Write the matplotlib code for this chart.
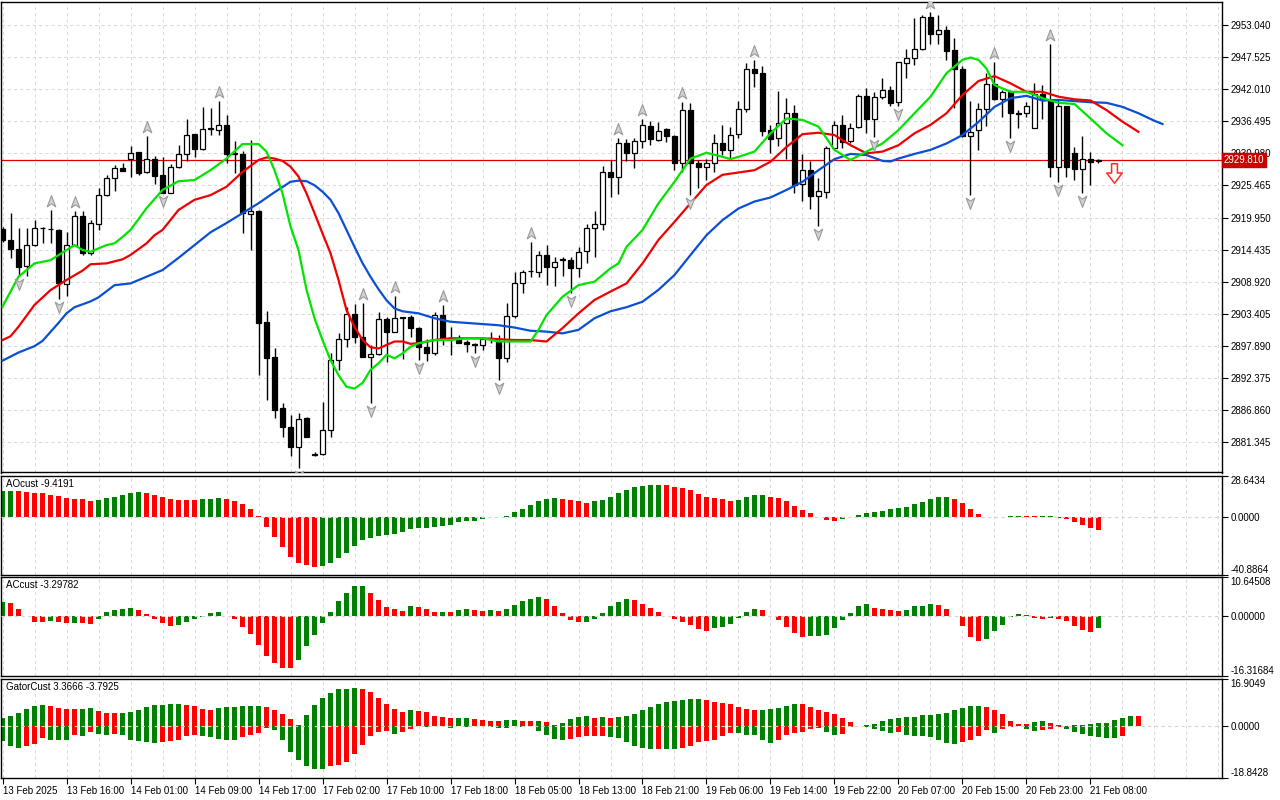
import numpy as np
import matplotlib
matplotlib.use("Agg")
import matplotlib.pyplot as plt
from matplotlib.path import Path
from matplotlib.transforms import offset_copy, blended_transform_factory

plt.rcParams['font.family'] = ['Liberation Sans', 'DejaVu Sans']

# ---- price bars (H1) ----
opn = [2918.0, 2916.1, 2914.5, 2911.6, 2915.2, 2918.1, 2917.9, 2917.8, 2908.5, 2915.2,
       2920.2, 2913.8, 2918.9, 2923.9, 2926.7, 2928.4, 2930.1, 2931.2, 2927.7, 2930.0,
       2927.3, 2924.2, 2928.6, 2930.9, 2934.3, 2931.7, 2935.2, 2935.1, 2935.8, 2931.0,
       2930.9, 2920.5, 2921.1, 2902.0, 2896.0, 2887.1, 2883.9, 2880.5, 2885.5, 2879.1,
       2879.2, 2883.4, 2895.4, 2899.1, 2903.3, 2899.3, 2896.0, 2896.4, 2902.4, 2900.3,
       2902.8, 2902.8, 2901.0, 2897.7, 2896.7, 2903.2, 2899.2, 2899.1, 2898.5, 2898.1,
       2898.0, 2899.0, 2898.5, 2895.7, 2903.0, 2908.7, 2910.7, 2910.6, 2913.5, 2911.5,
       2912.6, 2912.6, 2911.2, 2914.2, 2918.1, 2918.8, 2927.8, 2927.0, 2932.7, 2931.0,
       2933.2, 2935.7, 2933.3, 2935.2, 2934.0, 2929.3, 2938.5, 2929.3, 2928.7, 2929.4,
       2932.8, 2931.6, 2934.3, 2938.6, 2945.5, 2944.8, 2935.1, 2933.6, 2936.3, 2938.0,
       2925.7, 2928.1, 2923.7, 2924.4, 2931.9, 2935.9, 2933.1, 2935.5, 2940.9, 2936.9,
       2940.75, 2941.9, 2939.9, 2946.5, 2947.5, 2948.9, 2954.4, 2951.5, 2952.2, 2948.8,
       2945.5, 2933.9, 2935.0, 2938.6, 2942.9, 2940.35, 2941.6, 2937.9, 2937.9, 2935.4,
       2941.3, 2940.2, 2928.7, 2939.15, 2931.0, 2928.3, 2930.1, 2929.6]
high = [2918.3, 2920.7, 2918.1, 2918.1, 2919.5, 2918.4, 2921.2, 2918.0, 2917.5, 2921.1,
        2921.1, 2919.5, 2925.1, 2927.3, 2929.0, 2929.4, 2932.3, 2931.3, 2933.9, 2930.5,
        2930.4, 2929.2, 2932.4, 2936.9, 2934.4, 2938.9, 2938.8, 2940.0, 2937.6, 2933.2,
        2931.4, 2933.3, 2921.2, 2903.8, 2897.4, 2888.0, 2885.9, 2886.3, 2885.6, 2879.5,
        2888.2, 2896.6, 2900.0, 2904.5, 2905.05, 2905.2, 2898.0, 2903.7, 2902.8, 2906.4,
        2902.9, 2903.2, 2901.1, 2899.1, 2903.7, 2904.9, 2901.1, 2899.7, 2898.85, 2898.3,
        2899.4, 2900.3, 2899.7, 2905.2, 2910.6, 2910.9, 2915.7, 2914.2, 2915.2, 2913.2,
        2913.2, 2913.2, 2914.9, 2918.8, 2921.1, 2928.8, 2929.85, 2933.6, 2933.4, 2933.7,
        2936.9, 2936.6, 2936.4, 2935.4, 2934.2, 2939.9, 2939.6, 2929.85, 2930.0, 2934.4,
        2935.9, 2935.6, 2940.05, 2946.6, 2947.1, 2946.0, 2935.9, 2941.8, 2940.5, 2939.3,
        2930.9, 2929.7, 2926.7, 2932.3, 2936.6, 2937.6, 2936.2, 2941.2, 2942.2, 2941.6,
        2943.9, 2942.6, 2946.8, 2948.9, 2954.25, 2954.8, 2955.3, 2954.8, 2952.9, 2950.8,
        2946.0, 2940.0, 2939.6, 2944.8, 2946.8, 2941.9, 2941.9, 2938.5, 2939.9, 2943.05,
        2942.8, 2949.8, 2940.2, 2939.2, 2932.1, 2933.95, 2931.3, 2930.1]
low = [2915.7, 2913.0, 2909.8, 2909.8, 2915.0, 2915.5, 2915.6, 2906.0, 2906.5, 2915.0,
       2913.5, 2913.5, 2917.8, 2923.7, 2924.6, 2927.9, 2927.0, 2927.3, 2927.6, 2925.8,
       2924.1, 2924.1, 2928.4, 2929.7, 2930.4, 2931.6, 2934.2, 2934.2, 2929.3, 2927.6,
       2917.2, 2914.35, 2892.8, 2888.5, 2885.4, 2882.2, 2878.8, 2876.9, 2882.1, 2878.8,
       2879.05, 2882.2, 2893.7, 2897.7, 2898.3, 2895.9, 2887.95, 2896.3, 2895.1, 2900.2,
       2895.6, 2899.4, 2895.4, 2895.3, 2896.3, 2898.0, 2896.3, 2898.3, 2896.8, 2896.7,
       2897.1, 2898.3, 2892.0, 2895.1, 2902.6, 2907.0, 2909.75, 2909.75, 2908.3, 2908.15,
       2909.9, 2906.9, 2909.75, 2912.1, 2913.2, 2917.8, 2923.5, 2924.0, 2929.6, 2928.4,
       2931.9, 2932.4, 2933.2, 2933.0, 2928.1, 2927.8, 2923.8, 2925.0, 2926.4, 2927.8,
       2930.7, 2930.1, 2933.6, 2938.2, 2942.5, 2933.9, 2931.1, 2932.3, 2930.1, 2924.1,
       2922.8, 2921.5, 2918.5, 2923.25, 2931.7, 2931.9, 2932.7, 2935.3, 2934.55, 2933.75,
       2940.3, 2939.15, 2939.15, 2943.9, 2946.2, 2948.8, 2949.9, 2949.9, 2947.1, 2938.75,
       2933.75, 2923.8, 2931.6, 2935.7, 2940.2, 2937.3, 2933.6, 2935.4, 2937.3, 2935.4,
       2936.85, 2926.9, 2926.1, 2927.0, 2926.4, 2924.1, 2925.55, 2929.3]
close = [2916.1, 2914.5, 2911.5, 2915.2, 2918.1, 2918.2, 2917.95, 2908.6, 2915.2, 2920.2,
         2913.8, 2919.0, 2923.9, 2926.7, 2928.4, 2928.0, 2931.0, 2927.6, 2930.0, 2927.1,
         2924.2, 2928.6, 2930.8, 2934.2, 2931.7, 2935.2, 2935.25, 2935.8, 2930.9, 2930.95,
         2920.7, 2921.1, 2901.8, 2895.8, 2886.8, 2883.8, 2880.5, 2885.2, 2882.2, 2879.15,
         2883.4, 2895.4, 2899.0, 2903.3, 2899.3, 2896.0, 2896.4, 2902.4, 2900.2, 2902.6,
         2902.6, 2900.9, 2897.7, 2896.7, 2903.2, 2899.1, 2899.0, 2898.4, 2898.2, 2898.05,
         2899.0, 2899.05, 2895.7, 2903.0, 2908.7, 2910.6, 2910.8, 2913.5, 2911.5, 2912.3,
         2912.65, 2911.2, 2914.05, 2918.1, 2918.8, 2927.8, 2927.0, 2932.7, 2931.1, 2933.2,
         2935.8, 2933.4, 2934.8, 2933.9, 2929.3, 2938.5, 2929.3, 2928.7, 2929.3, 2932.8,
         2931.6, 2934.2, 2938.6, 2945.5, 2944.8, 2934.9, 2933.4, 2936.2, 2938.0, 2925.5,
         2928.1, 2923.7, 2924.5, 2931.9, 2935.9, 2933.0, 2935.3, 2940.9, 2936.9, 2940.75,
         2941.9, 2939.7, 2946.7, 2947.5, 2948.9, 2954.4, 2951.5, 2952.2, 2948.7, 2945.5,
         2933.9, 2934.7, 2938.6, 2942.9, 2940.35, 2941.6, 2937.9, 2937.85, 2939.15, 2941.3,
         2940.2, 2928.7, 2939.15, 2928.7, 2928.3, 2930.1, 2929.55, 2929.81]

# fractal bars
fractal_up = [6, 9, 18, 27, 45, 49, 55, 66, 77, 80, 85, 94, 116, 124, 131]
fractal_dn = [2, 7, 20, 37, 46, 52, 59, 62, 71, 86, 102, 109, 112, 121, 126, 132, 135]

# signal arrow
signal_bar = 139
signal_price = 2927.6

# ---- alligator lines (bar index, value) ----
jaw_x = [0, 2, 4, 5, 7, 8, 9, 11, 12, 14, 16, 18, 20, 22, 24, 26, 28, 30, 32, 34,
         36, 37, 38, 39, 40, 41, 42, 43, 44, 45, 46, 47, 48, 49, 50, 52, 54, 56, 58, 60,
         62, 64, 66, 68, 70, 72, 74, 76, 78, 80, 82, 84, 86, 88, 90, 92, 94, 96, 98, 100,
         102, 104, 106, 108, 110, 111, 112, 114, 116, 118, 120, 122, 124, 126, 128, 130, 132, 134, 136, 138,
         140, 142, 144, 145]
jaw_y = [2895.3, 2896.7, 2897.8, 2898.7, 2901.8, 2903.45, 2904.5, 2905.5, 2906.2, 2908.3,
         2908.6, 2909.75, 2910.9, 2913.0, 2915.2, 2917.4, 2919.0, 2920.7, 2922.4, 2924.3,
         2926.1, 2926.3, 2926.2, 2925.5, 2924.4, 2923.0, 2920.7, 2917.8, 2914.9, 2912.1,
         2909.75, 2907.6, 2905.7, 2904.3, 2903.8, 2903.45, 2902.6, 2902.0, 2901.8, 2901.6,
         2901.4, 2901.0, 2900.45, 2900.3, 2900.0, 2900.6, 2902.6, 2903.8, 2904.5, 2905.45,
         2907.5, 2910.05, 2913.5, 2916.9, 2919.5, 2921.5, 2922.7, 2923.4, 2924.7, 2926.1,
         2928.1, 2930.0, 2930.9, 2930.7, 2929.7, 2929.6, 2930.1, 2930.9, 2931.6, 2932.7,
         2934.15, 2936.4, 2939.0, 2940.5, 2940.9, 2940.1, 2940.2, 2940.0, 2939.8, 2939.7,
         2939.0, 2937.9, 2936.6, 2936.05]
teeth_x = [0, 1, 2, 4, 6, 8, 10, 11, 13, 15, 16, 18, 19, 20, 22, 24, 26, 28, 30, 32,
           33, 34, 35, 36, 37, 38, 39, 40, 41, 42, 43, 44, 45, 46, 47, 48, 49, 50, 51, 52,
           54, 56, 60, 62, 64, 66, 68, 70, 72, 74, 76, 78, 80, 82, 84, 86, 88, 90, 92, 94,
           96, 98, 100, 102, 104, 106, 108, 110, 112, 114, 116, 118, 120, 122, 124, 126, 128, 130, 132, 134,
           136, 138, 140, 142]
teeth_y = [2898.85, 2899.5, 2901.15, 2904.9, 2907.45, 2909.2, 2910.8, 2911.9, 2912.05, 2912.75,
           2913.5, 2915.5, 2916.9, 2917.8, 2921.25, 2923.0, 2923.8, 2925.25, 2927.8, 2929.85,
           2930.3, 2930.1, 2929.7, 2928.7, 2927.0, 2924.1, 2920.7, 2917.2, 2913.8, 2909.2,
           2904.0, 2901.1, 2898.85, 2897.6, 2897.4, 2898.0, 2898.6, 2898.6, 2898.2, 2898.3,
           2898.85, 2899.15, 2899.15, 2899.0, 2898.85, 2898.85, 2898.6, 2900.9, 2903.45, 2905.75,
           2907.2, 2908.6, 2912.05, 2916.1, 2919.2, 2922.4, 2925.55, 2927.3, 2927.7, 2928.1,
           2929.55, 2932.1, 2934.3, 2934.55, 2934.15, 2932.4, 2931.0, 2931.3, 2932.4, 2934.45,
           2935.9, 2937.9, 2941.05, 2943.45, 2944.3, 2943.05, 2941.6, 2941.6, 2940.75, 2940.3,
           2940.1, 2938.45, 2936.45, 2934.7]
lips_x = [0, 1, 2, 3, 4, 6, 8, 9, 10, 11, 13, 14, 15, 16, 18, 20, 22, 24, 26, 28,
          30, 32, 33, 34, 35, 36, 37, 38, 39, 40, 41, 42, 43, 44, 45, 46, 47, 48, 49, 50,
          51, 52, 54, 56, 58, 60, 62, 64, 66, 67, 68, 70, 72, 74, 76, 77, 78, 80, 82, 84,
          86, 88, 90, 91, 92, 94, 96, 98, 100, 102, 104, 106, 108, 110, 112, 114, 116, 118, 120, 121,
          122, 123, 124, 126, 128, 130, 132, 134, 136, 138, 140]
lips_y = [2904.6, 2907.2, 2909.75, 2910.9, 2912.05, 2912.6, 2914.35, 2915.2, 2914.35, 2914.05,
          2915.2, 2915.5, 2916.6, 2917.8, 2921.55, 2924.7, 2926.2, 2926.4, 2928.1, 2930.1,
          2932.6, 2932.6, 2931.3, 2928.1, 2924.1, 2918.4, 2914.35, 2907.5, 2902.6, 2898.85,
          2895.4, 2892.8, 2890.8, 2890.5, 2891.45, 2893.7, 2894.85, 2896.3, 2895.7, 2896.55,
          2897.7, 2898.3, 2898.85, 2898.85, 2899.15, 2899.15, 2898.6, 2898.6, 2898.6, 2900.6,
          2903.15, 2906.3, 2908.3, 2908.9, 2911.2, 2912.05, 2914.9, 2917.8, 2922.4, 2926.1,
          2930.1, 2931.1, 2930.4, 2930.0, 2930.4, 2931.3, 2934.45, 2937.0, 2936.75, 2935.6,
          2931.6, 2929.85, 2931.3, 2932.7, 2935.0, 2937.9, 2940.75, 2944.8, 2947.1, 2947.5,
          2947.1, 2945.6, 2942.75, 2941.6, 2941.6, 2940.5, 2939.7, 2939.5, 2937.0, 2934.45,
          2932.4]

# ---- oscillators ----
ao = [18.1, 18.4, 18.3, 17.6, 16.5, 16.4, 15.5, 14.8, 13.4, 12.7,
      12.2, 10.8, 11.5, 13.4, 14.1, 15.0, 16.5, 17.2, 16.5, 15.5,
      14.1, 12.7, 12.0, 11.75, 11.7, 12.2, 12.7, 13.4, 12.7, 11.3,
      9.2, 5.6, 0.2, -7.05, -13.9, -20.9, -28.2, -32.4, -33.7, -35.0,
      -34.5, -32.4, -28.9, -25.1, -20.4, -16.2, -14.8, -13.4, -12.7, -11.75,
      -11.0, -8.5, -7.75, -7.7, -7.05, -6.35, -5.6, -4.0, -3.3, -2.8,
      -1.9, -0.5, -0.25, 0.45, 3.5, 5.6, 8.5, 11.3, 12.7, 13.4,
      12.7, 11.5, 10.8, 9.9, 10.8, 12.0, 14.1, 16.9, 19.0, 21.15,
      21.85, 22.55, 22.6, 22.5, 21.15, 20.45, 19.0, 16.2, 14.1, 13.4,
      12.7, 11.3, 12.0, 14.1, 15.5, 15.55, 14.1, 13.4, 11.3, 7.75,
      4.9, 2.8, -0.3, -2.6, -2.65, -1.65, -0.2, 1.4, 2.8, 3.5,
      4.2, 5.6, 6.35, 7.05, 9.2, 10.6, 12.7, 14.1, 14.15, 12.7,
      9.9, 5.65, 2.1, 0.1, -0.05, -0.1, 0.2, 0.6, 0.5, 0.3,
      0.35, 0.4, -1.2, -1.9, -4.0, -6.1, -8.2, -9.4191]
ac = [3.9, 3.7, 1.9, -0.1, -1.55, -1.6, -1.3, -1.6, -1.8, -1.75,
      -1.85, -2.1, -0.7, 1.1, 1.65, 1.9, 2.2, 1.65, 0.45, -0.7,
      -1.8, -2.65, -2.3, -1.55, -0.9, -0.2, 0.8, 1.2, -0.05, -0.9,
      -2.9, -4.85, -7.95, -10.9, -12.8, -14.2, -14.25, -11.9, -8.1, -5.1,
      -1.8, 1.1, 4.1, 6.3, 8.2, 8.25, 6.3, 4.4, 2.45, 1.9,
      1.35, 2.75, 2.45, 1.9, 1.1, 1.15, 1.05, 1.65, 1.9, 1.6,
      1.35, 1.65, 1.4, 1.9, 3.0, 4.1, 4.65, 5.2, 4.6, 2.75,
      0.8, -1.0, -1.65, -1.55, -0.7, 0.8, 2.75, 3.85, 4.65, 4.4,
      3.3, 2.2, 1.1, -0.1, -0.75, -1.55, -2.4, -3.45, -4.0, -3.2,
      -2.9, -2.1, -0.45, 1.1, 1.9, 1.65, -0.05, -1.0, -2.9, -4.55,
      -5.6, -5.35, -5.3, -5.05, -3.2, -1.0, 0.8, 2.75, 3.3, 2.2,
      1.9, 1.65, 1.35, 1.65, 2.75, 2.8, 3.3, 3.0, 1.9, -0.1,
      -2.65, -5.65, -6.75, -6.2, -4.0, -2.4, -0.2, 0.55, 0.3, -0.45,
      -0.75, -0.45, -0.75, -1.3, -2.65, -3.75, -4.3, -3.29782]
gator_up = [3.0, 3.6, 4.6, 6.0, 7.2, 7.45, 7.1, 6.35, 6.0, 5.9,
            6.1, 6.35, 5.3, 4.6, 4.5, 4.6, 4.95, 5.65, 6.7, 7.45,
            7.55, 7.7, 7.8, 7.45, 7.1, 6.0, 5.65, 6.35, 6.7, 6.95,
            7.0, 7.1, 7.15, 6.7, 5.65, 4.2, 2.45, 0.3, 3.85, 7.45,
            9.95, 11.7, 13.15, 13.2, 13.5, 13.15, 12.1, 9.95, 7.8, 6.0,
            4.95, 5.65, 5.3, 4.95, 3.5, 3.15, 2.8, 2.85, 2.9, 2.45,
            2.1, 1.75, 1.7, 2.1, 2.15, 1.75, 1.7, 1.75, 1.35, 0.3,
            1.0, 2.45, 3.15, 3.5, 3.0, 3.05, 3.0, 3.05, 3.5, 4.2,
            5.65, 6.7, 7.8, 8.5, 8.85, 9.2, 9.55, 9.6, 9.2, 8.5,
            8.15, 7.8, 6.7, 6.0, 5.65, 5.7, 6.0, 6.35, 7.1, 7.8,
            7.75, 6.7, 5.65, 4.95, 4.2, 2.8, 1.35, 0.05, 0.2, 0.65,
            1.75, 2.45, 2.8, 3.15, 3.2, 3.85, 3.9, 4.2, 4.6, 5.65,
            6.35, 7.1, 7.15, 6.7, 5.65, 4.2, 1.75, 0.65, 0.6, 1.35,
            1.75, 1.0, 0.3, 0.05, 0.2, 0.3, 0.55, 0.9, 1.0, 2.1,
            2.8, 3.45, 3.3666]
gator_dn = [-5.65, -7.45, -8.15, -7.4, -6.7, -4.45, -4.95, -5.0, -5.05, -3.15,
            -3.85, -2.1, -2.8, -3.15, -2.8, -3.15, -4.95, -5.65, -6.0, -6.05,
            -6.0, -5.65, -4.95, -3.85, -3.15, -3.85, -4.2, -4.6, -4.95, -5.0,
            -4.2, -3.15, -2.45, -0.65, -1.35, -4.95, -9.6, -12.45, -14.6, -15.7,
            -15.75, -14.6, -14.2, -13.15, -10.3, -7.1, -3.85, -2.1, -1.7, -2.8,
            -2.1, -1.0, -0.2, -0.3, -0.2, -0.1, -0.65, -0.2, -0.3, -0.1,
            -0.05, -0.4, -0.65, -0.7, -0.2, -0.4, -0.2, -1.7, -3.15, -4.6,
            -4.95, -4.6, -4.2, -3.85, -3.6, -3.5, -4.2, -4.3, -6.0, -7.45,
            -8.15, -8.5, -8.45, -8.5, -8.55, -8.15, -7.45, -6.0, -5.65, -4.95,
            -3.5, -2.45, -2.5, -3.15, -3.2, -4.95, -6.35, -5.3, -3.15, -2.45,
            -2.1, -1.0, -0.95, -2.1, -3.15, -2.8, -0.55, -0.2, -0.55, -1.0,
            -1.7, -2.45, -2.1, -3.15, -3.5, -3.55, -4.2, -5.3, -6.35, -6.4,
            -6.0, -5.3, -3.5, -1.35, -2.45, -1.0, -0.55, -0.2, -1.0, -1.7,
            -1.35, -1.0, -0.55, -1.0, -2.1, -2.8, -3.5, -4.2, -4.3, -4.35,
            -3.7925]

# axis scales and labels
price_ticks = [2953.040, 2947.525, 2942.010, 2936.495, 2930.980, 2925.465, 2919.950,
               2914.435, 2908.920, 2903.405, 2897.890, 2892.375, 2886.860, 2881.345]
price_range = [2876.04, 2957.06]
ao_range = [-40.8864, 28.6434]
ac_range = [-16.31684, 10.64508]
gator_range = [-18.8428, 16.9049]
time_labels = ["13 Feb 2025", "13 Feb 16:00", "14 Feb 01:00", "14 Feb 09:00", "14 Feb 17:00",
               "17 Feb 02:00", "17 Feb 10:00", "17 Feb 18:00", "18 Feb 05:00", "18 Feb 13:00",
               "18 Feb 21:00", "19 Feb 06:00", "19 Feb 14:00", "19 Feb 22:00", "20 Feb 07:00",
               "20 Feb 15:00", "20 Feb 23:00", "21 Feb 08:00"]

GREEN = '#008000'
RED = '#ff0000'
GRID = '#dadada'


def trend_colors(vals):
    # green when the bar grew compared with the previous one
    cols = [GREEN]
    for prev, cur in zip(vals[:-1], vals[1:]):
        cols.append(GREEN if cur > prev else RED)
    return cols


fig = plt.figure(figsize=(12.8, 8), dpi=100)
left, width = 1 / 1280, 1221 / 1280
ax = fig.add_axes([left, 1 - 472.5 / 800, width, 470.5 / 800])
ax_ao = fig.add_axes([left, 1 - 575 / 800, width, 99 / 800])
ax_ac = fig.add_axes([left, 1 - 676 / 800, width, 99 / 800])
ax_gt = fig.add_axes([left, 1 - 778 / 800, width, 99 / 800])

x_min, x_max = -0.19, 152.44
for a in (ax, ax_ao, ax_ac, ax_gt):
    a.set_xlim(x_min, x_max)
    for s in a.spines.values():
        s.set_color('black')
        s.set_linewidth(1.0)
    a.yaxis.tick_right()
    a.tick_params(axis='y', direction='out', length=4, width=0.8, pad=2,
                  labelsize=7, colors='black')
    a.set_xticks(np.arange(0, 153, 8))
    a.set_xticks(np.arange(0, 153, 4), minor=True)
    a.tick_params(axis='x', which='both', bottom=False, labelbottom=False)
    a.grid(axis='x', which='both', color=GRID, ls=(0, (3, 3)), lw=0.75)
    a.set_axisbelow(True)

# ---- price panel ----
o, h, l, c = map(np.array, (opn, high, low, close))
idx = np.arange(len(o))
bull = c >= o
ax.axhline(close[-1], color='#e00000', lw=0.9, zorder=2)
ax.vlines(idx, l, h, color='black', lw=1.0, zorder=3)
ax.bar(idx, np.maximum(np.abs(c - o), 0.12), bottom=np.minimum(o, c), width=0.62,
       color=np.where(bull, 'white', 'black'), edgecolor='black', linewidth=0.9, zorder=4)

ax.plot(jaw_x, jaw_y, color='#0b4fd4', lw=1.6, zorder=5)
ax.plot(teeth_x, teeth_y, color='#f00000', lw=1.6, zorder=5)
ax.plot(lips_x, lips_y, color='#00e400', lw=1.6, zorder=5)

codes = [Path.MOVETO, Path.LINETO, Path.LINETO, Path.LINETO, Path.CLOSEPOLY]
up_mark = Path([(0, 1), (0.72, -0.9), (0, -0.4), (-0.72, -0.9), (0, 1)], codes)
dn_mark = Path([(0, -1), (0.72, 0.9), (0, 0.4), (-0.72, 0.9), (0, -1)], codes)
t_up = offset_copy(ax.transData, fig=fig, y=9, units='dots')
t_dn = offset_copy(ax.transData, fig=fig, y=-8, units='dots')
ax.plot(fractal_up, h[fractal_up], ls='none', marker=up_mark, ms=8.5, mfc='#d2d2d2',
        mec='#9a9a9a', mew=0.8, transform=t_up, zorder=6, clip_on=True)
ax.plot(fractal_dn, l[fractal_dn], ls='none', marker=dn_mark, ms=8.5, mfc='#d2d2d2',
        mec='#9a9a9a', mew=0.8, transform=t_dn, zorder=6, clip_on=True)

arrow_codes = [Path.MOVETO] + [Path.LINETO] * 6 + [Path.CLOSEPOLY]
sig_mark = Path([(-0.3, 1), (0.3, 1), (0.3, 0.05), (0.8, 0.05), (0, -1), (-0.8, 0.05),
                 (-0.3, 0.05), (-0.3, 1)], arrow_codes)
ax.plot([signal_bar], [signal_price], ls='none', marker=sig_mark, ms=14, mfc='white',
        mec='#ff2a2a', mew=1.1, zorder=6)

ax.set_ylim(*price_range)
ax.set_yticks(price_ticks, labels=[f"{v:.3f}" for v in price_ticks])
ax.grid(axis='y', color=GRID, ls=(0, (3, 3)), lw=0.75)

tr = blended_transform_factory(ax.transAxes, ax.transData)
ax.text(1.0012, close[-1], f"{close[-1]:.3f}", transform=tr, color='white', fontsize=7,
        va='center', ha='left', zorder=10, clip_on=False,
        bbox=dict(boxstyle='square,pad=0.18', fc='#cc0000', ec='#cc0000'))

# ---- oscillator panels ----
def set_scale(a, rng, fmt):
    a.set_ylim(*rng)
    ticks = [rng[0], 0.0, rng[1]]
    a.set_yticks(ticks, labels=[format(v, fmt) for v in ticks])
    labs = a.get_yticklabels()
    labs[0].set_va('bottom')
    labs[-1].set_va('top')
    a.axhline(0, color='#d4d4d4', ls=(0, (3, 3)), lw=0.8, zorder=3)


ax_ao.bar(np.arange(len(ao)), ao, width=0.62, color=trend_colors(ao), zorder=2)
set_scale(ax_ao, ao_range, '.4f')
ax_ao.text(0.004, 0.965, f"AOcust {ao[-1]:.4f}", transform=ax_ao.transAxes,
           fontsize=7, va='top', ha='left')

ax_ac.bar(np.arange(len(ac)), ac, width=0.62, color=trend_colors(ac), zorder=2)
set_scale(ax_ac, ac_range, '.5f')
ax_ac.text(0.004, 0.965, f"ACcust {ac[-1]:.5f}", transform=ax_ac.transAxes,
           fontsize=7, va='top', ha='left')

ax_gt.bar(np.arange(len(gator_up)), gator_up, width=0.62, color=trend_colors(gator_up), zorder=2)
ax_gt.bar(np.arange(len(gator_dn)), gator_dn, width=0.62,
          color=trend_colors([abs(v) for v in gator_dn]), zorder=2)
set_scale(ax_gt, gator_range, '.4f')
ax_gt.text(0.004, 0.965, f"GatorCust {gator_up[-1]:.4f} {gator_dn[-1]:.4f}",
           transform=ax_gt.transAxes, fontsize=7, va='top', ha='left')

ax_gt.tick_params(axis='x', which='major', bottom=True, labelbottom=True, direction='out',
                  length=4, width=0.8, pad=2, labelsize=7)
ax_gt.set_xticks(np.arange(0, 8 * len(time_labels), 8), labels=time_labels)
for t in ax_gt.get_xticklabels():
    t.set_ha('left')

fig.savefig('out.png', dpi=100, facecolor='white')
